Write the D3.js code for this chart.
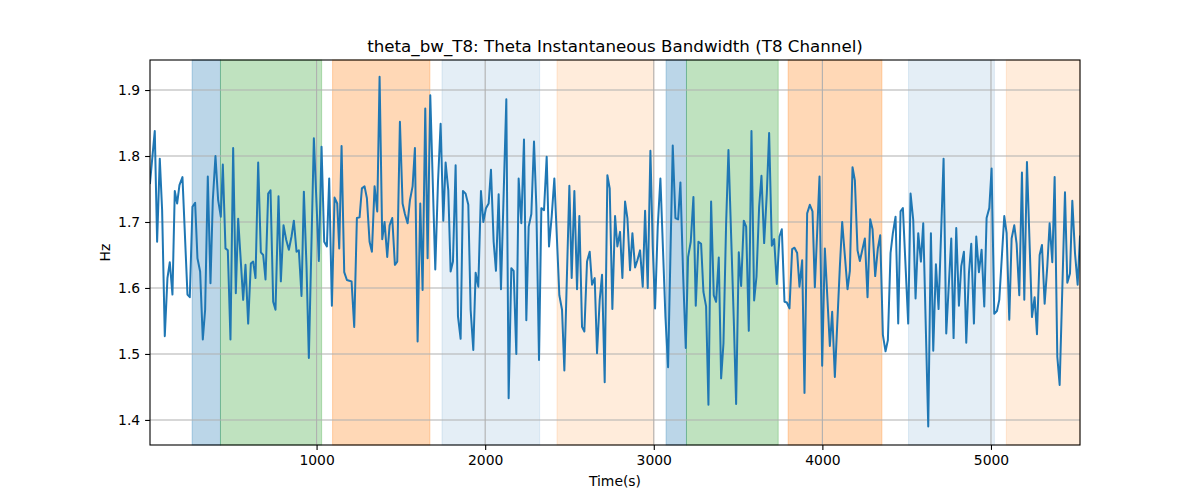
<!DOCTYPE html>
<html>
<head>
<meta charset="utf-8">
<script src="https://cdn.jsdelivr.net/npm/d3@7"></script>
<style>
html,body{margin:0;padding:0;background:#fff;}
svg text{font-family:"DejaVu Sans",sans-serif;fill:#000;}
</style>
</head>
<body>
<svg id="chart" width="1200" height="500"></svg>
<script>
const title = "theta_bw_T8: Theta Instantaneous Bandwidth (T8 Channel)";
const xLabel = "Time(s)";
const yLabel = "Hz";
const xTicks = [1000, 2000, 3000, 4000, 5000];
const yTicks = [1.4, 1.5, 1.6, 1.7, 1.8, 1.9];

const times = [
12,40.3,54.2,70.0,83.9,99.7,115.5,129.4,145.2,159.0,172.9,186.7,204.5,234.2,248.0,263.9,279.7,293.5,309.3,325.2,339.0,354.8,370.7,384.5,400.3,416.2,432.0,443.9,459.7,473.5,489.3,505.2,521.0,534.8,550.7,564.5,
578.4,594.3,610.1,623.9,637.8,653.6,669.4,683.3,697.1,712.9,726.8,742.6,756.4,774.2,788.1,803.9,819.7,835.6,851.4,865.2,881.1,894.9,910.7,924.6,940.4,954.2,983.9,999.7,1013.6,1029.4,1045.2,1061.1,1074.9,1090.7,1106.6,1122.4,
1134.3,1148.2,1164.0,1179.8,1193.7,1207.5,1223.3,1239.1,1255.0,1268.8,1284.6,1298.5,1314.3,1328.2,1344.0,1359.8,1373.7,1389.5,1403.3,1419.1,1433.0,1448.8,1464.6,1478.5,1494.3,1510.1,1524.0,1539.8,1553.7,1569.5,1583.3,1599.2,1615.0,1628.8,1644.6,1658.5,1674.3,
1704.0,1719.9,1735.7,1751.5,1765.4,1781.2,1795.0,1808.9,1824.7,1838.6,1854.4,1868.2,1884.0,1899.9,1913.7,1929.5,1943.4,1959.2,1975.0,1988.9,2004.7,2020.5,2034.4,2050.2,2064.0,2079.9,2093.7,2125.4,2139.2,2155.0,2168.9,2184.7,2198.5,2214.4,2230.2,2244.0,
2258.0,2273.8,2289.6,2303.5,2319.3,2333.1,2349.0,2364.8,2378.6,2394.4,2410.3,2439.9,2455.8,2469.6,2499.3,2513.1,2529.0,2544.8,2558.6,2574.4,2588.3,2604.1,2619.9,2633.8,2649.6,2663.4,2679.3,2693.1,2708.9,2724.8,2738.6,2754.4,2770.3,2784.1,2799.9,2813.8,
2829.7,2843.5,2859.3,2873.2,2889.0,2902.9,2918.7,2934.5,2948.4,2964.2,2980.0,2993.8,3007.7,3023.5,3039.3,3069.0,3084.8,3112.5,3128.3,3144.2,3158.0,3173.8,3189.7,3203.5,3219.3,3235.2,3249.0,3264.8,3280.7,3294.5,3310.3,3324.2,3340.0,3355.8,3369.7,3385.5,
3399.4,3413.3,3429.1,3442.9,3474.6,3488.4,3504.2,3518.1,3533.9,3547.8,3563.6,3579.4,3595.2,3609.1,3624.9,3638.7,3654.6,3670.4,3684.2,3700.1,3713.9,3729.7,3745.6,3759.4,3775.2,3789.1,3804.9,3820.7,3834.6,3850.4,3864.2,3880.1,3893.9,3909.7,3925.6,3941.4,
3955.3,3983.0,3998.8,4014.6,4044.3,4058.1,4074.0,4103.6,4117.5,4149.1,4163.0,4178.8,4192.7,4208.5,4222.3,4238.1,4252.0,4267.8,4283.6,4297.5,4313.3,4329.1,4343.0,4358.8,4374.6,4388.5,4404.3,4418.1,4434.0,4449.8,4463.6,4477.5,4509.1,
4523.0,4538.9,4552.7,4568.5,4584.4,4598.2,4627.9,4643.7,4657.6,4673.4,4689.2,4718.9,4734.7,4764.4,4778.2,4794.0,4809.9,4823.7,4839.5,4853.4,4869.2,4883.0,4898.9,4912.7,4928.5,4944.4,4960.2,4974.0,4989.9,5003.7,5019.5,5035.4,5049.2,
5078.9,5092.8,5108.6,5122.4,5138.2,5152.1,5167.9,5183.7,5197.6,5213.4,5243.1,5258.9,5272.8,5288.6,5302.4,5318.3,5334.1,5347.9,5363.7,5377.6,5393.4,5407.3,5438.9,5452.8,5468.6,5482.4,5498.3,5514.1,5528.0
];

const values = [
1.759,1.838,1.670,1.796,1.718,1.527,1.615,1.639,1.590,1.747,1.728,1.756,1.768,1.590,1.586,1.723,1.729,1.645,1.625,1.522,1.567,1.769,1.607,1.733,1.800,1.733,1.708,1.787,1.660,1.657,1.522,1.812,1.592,1.705,1.640,1.582,
1.635,1.546,1.637,1.640,1.615,1.790,1.654,1.650,1.613,1.743,1.748,1.579,1.567,1.739,1.610,1.695,1.673,1.658,1.678,1.702,1.655,1.657,1.588,1.746,1.632,1.494,1.827,1.728,1.641,1.814,1.670,1.663,1.766,1.573,1.737,1.728,
1.660,1.815,1.624,1.612,1.611,1.610,1.541,1.706,1.707,1.751,1.754,1.736,1.670,1.655,1.754,1.716,1.920,1.674,1.700,1.647,1.695,1.706,1.635,1.640,1.852,1.728,1.712,1.698,1.733,1.754,1.812,1.519,1.728,1.597,1.872,1.645,1.892,
1.628,1.759,1.849,1.702,1.790,1.748,1.625,1.640,1.786,1.557,1.523,1.747,1.743,1.726,1.567,1.506,1.623,1.602,1.747,1.700,1.721,1.728,1.779,1.670,1.626,1.742,1.598,1.886,1.433,1.630,1.626,1.500,1.766,1.698,1.825,1.551,
1.693,1.712,1.822,1.723,1.491,1.721,1.718,1.799,1.663,1.708,1.766,1.589,1.567,1.475,1.755,1.615,1.747,1.598,1.709,1.541,1.534,1.640,1.655,1.605,1.615,1.501,1.582,1.620,1.457,1.771,1.751,1.568,1.709,1.663,1.685,1.615,
1.731,1.706,1.627,1.683,1.631,1.642,1.657,1.602,1.717,1.600,1.808,1.663,1.569,1.693,1.766,1.557,1.480,1.816,1.706,1.704,1.760,1.622,1.509,1.647,1.670,1.738,1.573,1.670,1.667,1.594,1.572,1.423,1.731,1.589,1.579,1.646,
1.463,1.516,1.698,1.809,1.551,1.424,1.654,1.603,1.702,1.693,1.535,1.838,1.581,1.617,1.723,1.770,1.668,1.743,1.835,1.664,1.674,1.606,1.678,1.689,1.579,1.578,1.569,1.659,1.661,1.653,1.602,1.642,1.441,1.713,1.726,1.716,
1.601,1.769,1.482,1.660,1.512,1.564,1.465,1.632,1.700,1.598,1.626,1.783,1.763,1.657,1.641,1.659,1.675,1.586,1.704,1.689,1.618,1.660,1.680,1.529,1.504,1.521,1.653,1.683,1.708,1.546,1.716,1.721,1.546,
1.743,1.703,1.584,1.683,1.640,1.698,1.390,1.683,1.505,1.636,1.568,1.796,1.531,1.675,1.524,1.691,1.573,1.633,1.655,1.517,1.622,1.667,1.546,1.678,1.624,1.658,1.572,1.706,1.721,1.781,1.561,1.565,1.582,
1.709,1.683,1.552,1.675,1.695,1.667,1.589,1.775,1.582,1.791,1.556,1.586,1.530,1.650,1.665,1.576,1.633,1.698,1.639,1.768,1.496,1.453,1.745,1.608,1.622,1.732,1.653,1.605,1.678
];

const spanStarts = [262, 430, 1095, 1744, 2426, 3073, 3194, 3797, 4511, 5091];
const spanEnds   = [430, 1030, 1672, 2323, 3000, 3194, 3738, 4353, 5020, 5528];
const spanColors = ["#1f77b4", "#2ca02c", "#ff7f0e", "#1f77b4", "#ff7f0e", "#1f77b4", "#2ca02c", "#ff7f0e", "#1f77b4", "#ff7f0e"];
const spanAlphas = [0.3, 0.3, 0.3, 0.12, 0.15, 0.3, 0.3, 0.3, 0.12, 0.15];

const W = 1200, H = 500;
const m = {left: 150, right: 1080, top: 60, bottom: 445};
const svg = d3.select("#chart");

const x = d3.scaleLinear().domain([d3.min(times), d3.max(times)]).range([m.left, m.right]);
const y = d3.scaleLinear().domain([1.362, 1.9455]).range([m.bottom, m.top]);

const data = times.map((t, i) => ({t, v: values[i]}));
const spans = spanStarts.map((s, i) => ({s, e: spanEnds[i], c: spanColors[i], a: spanAlphas[i]}));

// spans
svg.append("g").selectAll("rect").data(spans).join("rect")
  .attr("x", d => x(d.s)).attr("width", d => x(d.e) - x(d.s))
  .attr("y", m.top).attr("height", m.bottom - m.top)
  .attr("fill", d => d.c).attr("fill-opacity", d => d.a)
  .attr("stroke", d => d.c).attr("stroke-opacity", d => d.a).attr("stroke-width", 1);

// grid
const grid = svg.append("g");
grid.selectAll("line.gx").data(xTicks).join("line")
  .attr("x1", d => x(d)).attr("x2", d => x(d)).attr("y1", m.top).attr("y2", m.bottom)
  .attr("stroke", "#b0b0b0").attr("stroke-width", 1.1);
grid.selectAll("line.gy").data(yTicks).join("line")
  .attr("y1", d => y(d)).attr("y2", d => y(d)).attr("x1", m.left).attr("x2", m.right)
  .attr("stroke", "#b0b0b0").attr("stroke-width", 1.1);

// clip
svg.append("clipPath").attr("id", "clip").append("rect")
  .attr("x", m.left).attr("y", m.top).attr("width", m.right - m.left).attr("height", m.bottom - m.top);

svg.append("path").datum(data)
  .attr("clip-path", "url(#clip)")
  .attr("fill", "none").attr("stroke", "#1f77b4").attr("stroke-width", 2)
  .attr("stroke-linejoin", "round").attr("stroke-linecap", "square")
  .attr("d", d3.line().x(d => x(d.t)).y(d => y(d.v)));

// axes
const xAxis = svg.append("g").attr("transform", `translate(0,${m.bottom})`)
  .call(d3.axisBottom(x).tickValues(xTicks).tickFormat(d3.format("d")).tickSizeOuter(0).tickSize(4.9).tickPadding(4.9));
const yAxis = svg.append("g").attr("transform", `translate(${m.left},0)`)
  .call(d3.axisLeft(y).tickValues(yTicks).tickFormat(d3.format(".1f")).tickSizeOuter(0).tickSize(4.9).tickPadding(4.9));
[xAxis, yAxis].forEach(g => {
  g.select(".domain").remove();
  g.selectAll(".tick line").attr("stroke", "#000").attr("stroke-width", 1.1);
  g.selectAll(".tick text").attr("font-family", "DejaVu Sans").attr("font-size", 13.9).attr("fill", "#000");
});

// spines
svg.append("rect").attr("x", m.left).attr("y", m.top).attr("width", m.right - m.left).attr("height", m.bottom - m.top)
  .attr("fill", "none").attr("stroke", "#000").attr("stroke-width", 1.1);

// labels
svg.append("text").attr("x", (m.left + m.right) / 2).attr("y", 52).attr("text-anchor", "middle")
  .attr("font-size", 16.7).text(title);
svg.append("text").attr("x", (m.left + m.right) / 2).attr("y", 486).attr("text-anchor", "middle")
  .attr("font-size", 13.9).text(xLabel);
svg.append("text").attr("transform", `translate(110,${(m.top + m.bottom) / 2}) rotate(-90)`)
  .attr("text-anchor", "middle").attr("font-size", 13.9).text(yLabel);
</script>
</body>
</html>
